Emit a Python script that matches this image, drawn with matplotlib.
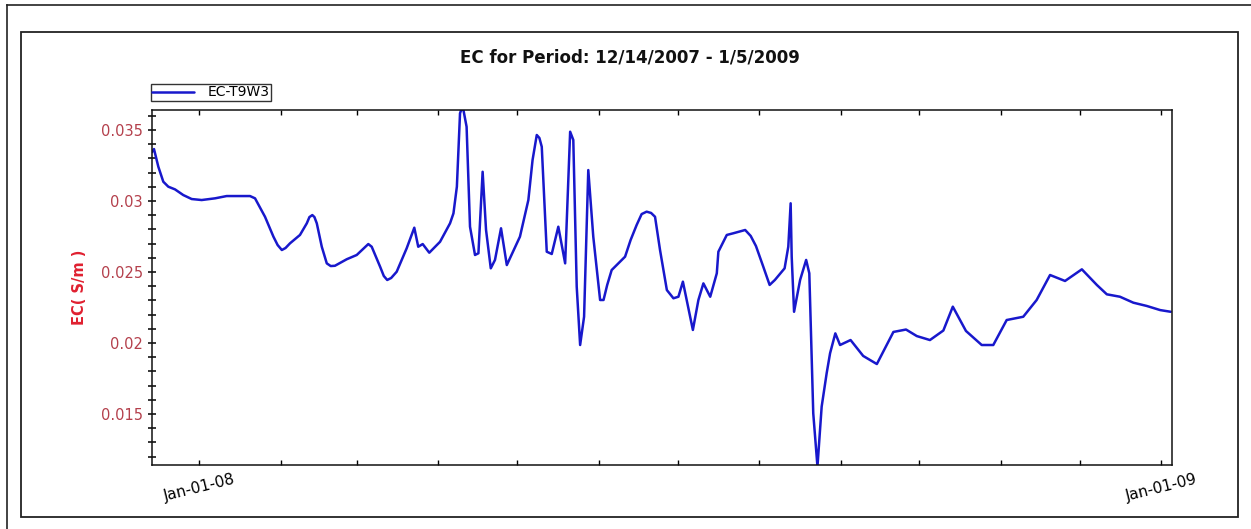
import numpy as np
import pandas as pd
import matplotlib
matplotlib.use("Agg")
import matplotlib.pyplot as plt
import matplotlib.dates as mdates
from matplotlib.ticker import MultipleLocator, FuncFormatter
from matplotlib.lines import Line2D
from matplotlib.patches import Rectangle

# ---- data ----
start_date = "2007-12-14"
end_day = 388.1  # days after start (1/5/2009)
days = [0.0, 0.76, 2.4, 4.3, 6.2, 8.75, 11.9, 15.1, 18.9, 24.0, 28.4, 37.3, 39.2,
        43.0, 46.2, 47.8, 49.4, 50.8, 52.5, 56.3, 58.9, 59.9, 61.0, 61.8, 62.7,
        64.6, 66.5, 68.0, 69.6, 74.1,
        77.9, 82.3, 83.6, 86.8, 88.2, 89.5, 91.0, 93.1, 96.9, 99.8, 101.3, 103.0,
        105.5, 109.6, 113.4, 114.7, 116.0, 117.2, 118.2, 119.7, 121.0, 122.9,
        124.2, 125.8, 127.1, 128.9, 130.5, 132.8, 135.0, 140.0, 143.2, 144.8,
        146.4, 147.4, 148.3,
        150.2, 152.1, 154.6, 156.5, 157.2, 159.1, 160.3, 161.6, 162.9, 164.4,
        166.0, 167.9, 170.5, 171.8, 173.2, 174.9, 180.0, 182.1, 184.4, 186.3,
        188.2, 189.9, 191.4, 193.3, 195.9, 198.4,
        200.3, 202.0, 205.8, 207.9, 209.8, 212.4, 214.9, 215.5, 218.7, 221.2,
        225.7, 227.8, 229.8, 232.5, 235.0, 237.0, 240.7, 242.1, 243.0, 243.4,
        244.3, 246.6, 248.9, 250.1,
        251.6, 253.2, 254.8, 256.7, 258.0, 260.0, 261.8, 265.8, 270.6, 275.8,
        282.1, 286.9, 291.0, 296.0, 301.1, 304.7, 309.7, 315.7, 320.1, 325.2,
        331.5, 336.6, 341.7, 347.4, 353.8, 359.5, 363.3, 368.3, 373.4, 378.5,
        383.6, 387.6]
ec_values = [0.03345, 0.03366, 0.03242, 0.03136, 0.03101, 0.03082, 0.03042,
             0.03014, 0.03007, 0.03019, 0.03035, 0.03035, 0.03019, 0.02889,
             0.02749, 0.02690, 0.02655, 0.02669, 0.02702, 0.02761, 0.02843,
             0.02887, 0.02901, 0.02887, 0.02843,
             0.02678, 0.02561, 0.02542, 0.02544, 0.02590,
             0.02620, 0.02697, 0.02678, 0.02537, 0.02472, 0.02444, 0.02458,
             0.02502, 0.02667, 0.02812, 0.02678, 0.02697,
             0.02636, 0.02713, 0.02843, 0.02913, 0.03101, 0.03618, 0.03670,
             0.03523, 0.02819, 0.02620,
             0.02632, 0.03206, 0.02796, 0.02526, 0.02585, 0.02808, 0.02549,
             0.02749, 0.03007, 0.03289,
             0.03465, 0.03444, 0.03382,
             0.02643, 0.02627, 0.02819, 0.02632, 0.02561, 0.03488, 0.03430,
             0.02397, 0.01986, 0.02185,
             0.03218, 0.02749, 0.02303, 0.02303, 0.02409, 0.02514, 0.02608,
             0.02725, 0.02831, 0.02908,
             0.02925, 0.02916, 0.02889, 0.02655, 0.02373, 0.02315,
             0.02326, 0.02432, 0.02092, 0.02303, 0.02420, 0.02326, 0.02491,
             0.02643, 0.02761, 0.02773,
             0.02796, 0.02754, 0.02683, 0.02542, 0.02409, 0.02444, 0.02526,
             0.02678, 0.02984, 0.02608,
             0.02220, 0.02444, 0.02585, 0.02491,
             0.01505, 0.01130, 0.01552, 0.01787, 0.01928, 0.02068, 0.01986,
             0.02021, 0.01909, 0.01852,
             0.02078, 0.02095, 0.02049, 0.02021, 0.02088, 0.02256, 0.02085,
             0.01986, 0.01986, 0.02162,
             0.02185, 0.02303, 0.02479, 0.02437, 0.02519, 0.02409, 0.02343,
             0.02326, 0.02284, 0.02261,
             0.02232, 0.02220]
series_label = "EC-T9W3"
title_text = "EC for Period: 12/14/2007 - 1/5/2009"
ylabel_text = "EC( S/m )"
y_ticks = [0.015, 0.02, 0.025, 0.03, 0.035]
y_tick_labels = ["0.015", "0.02", "0.025", "0.03", "0.035"]
y_limits = (0.01141, 0.03641)

# ---- figure ----
W, H = 1251, 529
fig = plt.figure(figsize=(W / 100, H / 100), dpi=100, facecolor="white")

def fx(px):
    return px / W

def fy(py):
    return 1 - py / H

# outer and inner frames
fig.add_artist(Line2D([fx(7), fx(7)], [fy(5), fy(H + 5)], color="#222222", lw=1.2,
                      transform=fig.transFigure))
fig.add_artist(Line2D([fx(7), fx(W + 5)], [fy(5), fy(5)], color="#222222", lw=1.2,
                      transform=fig.transFigure))
fig.add_artist(Rectangle((fx(21), fy(517)), fx(1238) - fx(21), fy(32) - fy(517),
                         fill=False, edgecolor="#222222", lw=1.3,
                         transform=fig.transFigure))

ax = fig.add_axes([fx(152), fy(465), fx(1172) - fx(152), fy(110) - fy(465)])

t0 = pd.Timestamp(start_date)
dates = t0 + pd.to_timedelta(np.array(days), unit="D")
ax.plot(dates, ec_values, color="#1818cc", lw=1.8, label=series_label,
        solid_joinstyle="round", solid_capstyle="round")

ax.set_xlim(t0, t0 + pd.Timedelta(days=end_day))
ax.set_ylim(*y_limits)

# x axis: monthly ticks, labels only for January
ax.xaxis.set_major_locator(mdates.MonthLocator())

def xfmt(v, pos):
    d = mdates.num2date(v)
    return d.strftime("%b-%d-%y") if d.month == 1 else ""

ax.xaxis.set_major_formatter(FuncFormatter(xfmt))
ax.tick_params(axis="x", which="major", direction="in", length=3.5, width=1,
               top=True, bottom=True, labelsize=11, pad=5, colors="black")
for lab in ax.get_xticklabels():
    lab.set_rotation(14)
    lab.set_ha("center")

# y axis
ax.set_yticks(y_ticks)
ax.set_yticklabels(y_tick_labels)
ax.yaxis.set_minor_locator(MultipleLocator(0.001))
ax.tick_params(axis="y", which="both", direction="inout", length=5.8, width=1.1,
               left=True, right=False, labelsize=10.5, labelcolor="#b4404c",
               color="black")

for s in ax.spines.values():
    s.set_linewidth(1.1)
    s.set_color("#111111")

ax.set_ylabel(ylabel_text, color="#e02030", fontweight="bold", fontsize=10.5)
ax.yaxis.label.set_va("center")
ax.yaxis.set_label_coords((80 - 152) / 1020, 0.5)

fig.text(fx(630), fy(58), title_text, ha="center", va="center",
         fontsize=12, fontweight="bold", color="#111111")

leg = ax.legend(loc="lower left", bbox_to_anchor=(-0.001, 1.026), borderaxespad=0,
                fontsize=10, frameon=True, fancybox=False, borderpad=0.1,
                handlelength=3.0, handletextpad=1.0)
leg.get_frame().set_edgecolor("black")
leg.get_frame().set_linewidth(1.0)

fig.savefig("out.png", dpi=100, facecolor="white")
